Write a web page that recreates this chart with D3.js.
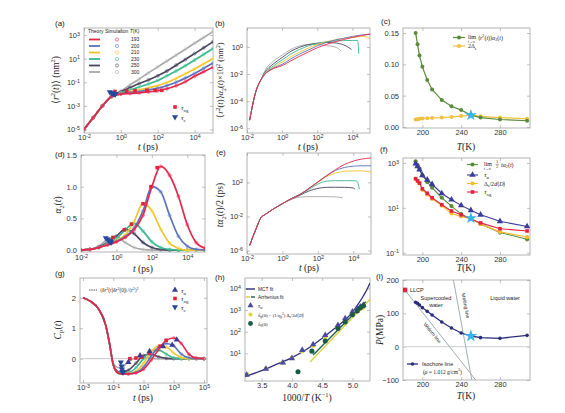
<!DOCTYPE html>
<html><head><meta charset="utf-8">
<script src="https://d3js.org/d3.v7.min.js"></script>
<style>html,body{margin:0;padding:0;background:#fff;}svg{display:block;}</style>
</head><body>
<svg id="chart" width="565" height="413"></svg>
<script>
// ================= DATA =================
const temps = ["193","200","210","230","250","300"];
const tempColors = ["#e3264a","#5b72b6","#f2c230","#3cb48c","#4a4560","#a8a8a8"];

// (a) MSD, log10 values on log10 t grid
const aLogT   = [-2,-1.5,-1,-0.5,0,0.5,1,1.5,2,2.5,3,3.5,4,4.5,5];
const aMsd193 = [-5,-4,-3,-2.2,-2.0,-1.95,-1.9,-1.82,-1.72,-1.55,-1.3,-0.95,-0.5,-0.1,0.28];
const aMsd200 = [-5,-4,-3,-2.2,-1.97,-1.88,-1.78,-1.65,-1.5,-1.28,-1.0,-0.65,-0.25,0.18,0.62];
const aMsd210 = [-5,-4,-3,-2.2,-1.95,-1.8,-1.65,-1.48,-1.28,-1.02,-0.68,-0.28,0.12,0.56,1.0];
const aMsd230 = [-5,-4,-3,-2.2,-1.9,-1.65,-1.4,-1.15,-0.85,-0.45,-0.05,0.4,0.88,1.37,1.86];
const aMsd250 = [-5,-4,-3,-2.2,-1.8,-1.45,-1.1,-0.8,-0.45,-0.05,0.45,0.93,1.43,1.93,2.43];
const aMsd300 = [-5,-4,-3,-2.15,-1.75,-1.22,-0.72,-0.2,0.3,0.8,1.3,1.8,2.3,2.8,3.3];
const aTauNgLogT   = [2.22,1.86,1.41,0.77,0.32,-0.32];
const aTauNgLogMsd = [-1.68,-1.7,-1.68,-1.72,-1.75,-1.78];
const aTauCLogT    = [-0.3,-0.35,-0.4,-0.45,-0.5,-0.6];
const aTauCLogMsd  = [-2.02,-2.0,-1.97,-1.94,-1.9,-1.82];
const aYTicks = [1e-5,1e-3,1e-1,1e1,1e3];
const tXTicks = [1e-2,1,1e2,1e4];

// (b) <r2>alpha2 x10^2, [log t, log value]
const b193 = [[-1.85,-5.4],[-1.5,-3.3],[-1.2,-2.4],[-1,-2.05],[-0.5,-1.6],[0,-1.38],[0.5,-1.02],[1,-0.68],[1.5,-0.36],[2,-0.06],[2.5,0.18],[3,0.38],[3.5,0.55],[4,0.7],[4.5,0.84],[5,0.96]];
const b200 = [[-1.85,-5.4],[-1.5,-3.3],[-1.2,-2.4],[-1,-2.03],[-0.5,-1.55],[0,-1.28],[0.5,-0.88],[1,-0.52],[1.5,-0.22],[2,0.08],[2.5,0.33],[3,0.5],[3.5,0.64],[4,0.78],[4.5,0.88],[5,0.93]];
const b210 = [[-1.85,-5.4],[-1.5,-3.3],[-1.2,-2.4],[-1,-2.0],[-0.5,-1.5],[0,-1.12],[0.5,-0.72],[1,-0.38],[1.5,-0.08],[2,0.18],[2.5,0.38],[3,0.53],[3.5,0.63],[4,0.72],[4.5,0.76],[4.8,0.75],[5,0.6]];
const b230 = [[-1.85,-5.4],[-1.5,-3.3],[-1.2,-2.4],[-1,-1.95],[-0.5,-1.4],[0,-0.95],[0.5,-0.52],[1,-0.18],[1.5,0.08],[2,0.27],[2.5,0.38],[3,0.44],[3.5,0.47],[4,0.48],[4.3,0.48],[4.36,-0.5]];
const b250 = [[-1.85,-5.4],[-1.5,-3.3],[-1.2,-2.4],[-1,-1.9],[-0.5,-1.25],[0,-0.78],[0.5,-0.32],[1,-0.02],[1.5,0.18],[2,0.28],[2.5,0.33],[3,0.3],[3.5,0.15],[3.8,-0.05],[3.95,-0.18]];
const b300 = [[-1.85,-5.4],[-1.5,-3.3],[-1.2,-2.4],[-1,-1.8],[-0.5,-1.05],[0,-0.6],[0.5,-0.18],[1,0.08],[1.5,0.18],[2,0.18],[2.5,0.1],[3,0.0],[3.2,-0.12],[3.35,-0.3]];
const bYTicks = [1e-6,1e-4,1e-2,1];

// (c) vs T
const cT = [193,195,197,200,205,210,220,230,240,250,260,280,308];
const cLimR2A2 = [0.15,0.132,0.114,0.096,0.075,0.06,0.043,0.033,0.027,0.019,0.015,0.012,0.010];
const c2Ds     = [0.012,0.0125,0.013,0.0135,0.014,0.0145,0.015,0.016,0.0175,0.019,0.017,0.015,0.013];
const cStar = [250,0.019];
const cYTicks = [0,0.05,0.10,0.15];
const TTicks = [200,240,280];

// (d) alpha2(t)
const dLogT = [-2,-1.5,-1,-0.5,0,0.5,1,1.5,2,2.5,3,3.5,4,4.5,5];
const d193 = [0,0.01,0.04,0.08,0.13,0.2,0.32,0.55,1.0,1.32,1.18,0.85,0.4,0.12,0.03];
const d200 = [0,0.01,0.04,0.09,0.14,0.21,0.35,0.62,1.0,0.92,0.55,0.22,0.06,0.01,0];
const d210 = [0,0.01,0.04,0.09,0.15,0.24,0.45,0.74,0.62,0.33,0.11,0.03,0,0,0];
const d230 = [0,0.01,0.04,0.1,0.18,0.32,0.42,0.3,0.13,0.04,0.01,0,0,0,0];
const d250 = [0,0.01,0.05,0.12,0.22,0.33,0.26,0.12,0.04,0.01,0,0,0,0,0];
const d300 = [0,0.01,0.06,0.17,0.21,0.12,0.04,0.01,0,0,0,0,0,0,0];
const dNgLogT = [2.3,1.95,1.5,0.85,0.45,-0.2];
const dNgA    = [1.3,1.0,0.73,0.41,0.32,0.2];
const dTcLogT = [-0.3,-0.35,-0.4,-0.45,-0.5,-0.6];
const dTcA    = [0.12,0.13,0.14,0.15,0.17,0.19];
const dYTicks = [0,0.5,1.0,1.5];

// (e) t alpha2 / 2, [log t, log value]
const e193 = [[-1.85,-5.4],[-1.5,-3.5],[-1.2,-2.1],[-1,-1.8],[-0.5,-1.1],[0,-0.5],[0.5,0.1],[1,0.6],[1.5,1.3],[2,2.05],[2.5,2.8],[3,3.5],[3.5,4.1],[4,4.5],[4.5,4.75],[5,4.86]];
const e200 = [[-1.85,-5.4],[-1.5,-3.5],[-1.2,-2.1],[-1,-1.8],[-0.5,-1.1],[0,-0.5],[0.5,0.1],[1,0.6],[1.5,1.3],[2,2.05],[2.5,2.8],[3,3.4],[3.5,3.75],[4,3.9],[4.5,3.95],[5,3.95]];
const e210 = [[-1.85,-5.4],[-1.5,-3.5],[-1.2,-2.1],[-1,-1.8],[-0.5,-1.1],[0,-0.5],[0.5,0.1],[1,0.6],[1.5,1.3],[2,2.0],[2.5,2.7],[3,3.1],[3.5,3.3],[4,3.35],[4.5,3.35],[5,3.2]];
const e230 = [[-1.85,-5.4],[-1.5,-3.5],[-1.2,-2.1],[-1,-1.8],[-0.5,-1.1],[0,-0.5],[0.5,0.1],[1,0.55],[1.5,1.2],[2,1.8],[2.5,2.15],[3,2.2],[3.5,2.2],[4,2.2],[4.2,2.15],[4.35,1.2]];
const e250 = [[-1.85,-5.4],[-1.5,-3.5],[-1.2,-2.1],[-1,-1.8],[-0.5,-1.1],[0,-0.5],[0.5,0.05],[1,0.5],[1.5,1.0],[2,1.3],[2.5,1.42],[3,1.43],[3.5,1.42],[4,1.35],[4.1,1.2]];
const e300 = [[-1.85,-5.4],[-1.5,-3.5],[-1.2,-2.1],[-1,-1.8],[-0.5,-1.1],[0,-0.5],[0.5,0.0],[1,0.28],[1.5,0.33],[2,0.33],[2.5,0.33],[3,0.3],[3.4,0.2]];
const eYTicks = [1e-6,1e-2,1e2];

// (f) log10 values vs T
const fLimTa2Log = [3.07,2.9,2.75,2.45,2.15,1.9,1.45,1.08,0.72,0.52,0.28,-0.1,-0.4];
const fTauALog   = [2.97,2.85,2.7,2.45,2.25,2.05,1.64,1.36,1.11,0.89,0.69,0.4,0.17];
const fDsLog     = [2.29,2.2,2.1,1.8,1.6,1.4,1.1,0.75,0.62,0.52,0.28,-0.07,-0.3];
const fTauNgLog  = [2.3,2.2,2.1,1.85,1.65,1.45,1.14,0.86,0.69,0.5,0.33,0.07,-0.03];
const fStar = [250,0.54];
const fYTicks = [0.1,10,1000];

// (g) C_P(t)
const gLogT = [-3,-2.5,-2,-1.5,-1.25,-1,-0.75,-0.5,0,0.5,1,1.5,2,2.5,3,3.5,4,4.5,5];
const g193 = [2,1.88,1.65,1.1,0.5,-0.2,-0.45,-0.5,-0.5,-0.47,-0.35,-0.05,0.3,0.6,0.68,0.5,0.15,0.02,0];
const g200 = [2,1.88,1.65,1.1,0.5,-0.2,-0.45,-0.5,-0.5,-0.45,-0.28,0.08,0.38,0.5,0.42,0.15,0.03,0,0];
const g210 = [2,1.88,1.65,1.1,0.5,-0.2,-0.45,-0.5,-0.49,-0.42,-0.15,0.22,0.41,0.38,0.18,0.04,0,0,0];
const g230 = [2,1.88,1.65,1.1,0.5,-0.2,-0.44,-0.48,-0.46,-0.3,0.0,0.25,0.28,0.15,0.03,0,0,0,0];
const g250 = [2,1.88,1.65,1.1,0.5,-0.2,-0.4,-0.45,-0.38,-0.15,0.1,0.14,0.06,0.01,0,0,0,0,0];
const g300 = [2,1.88,1.65,1.1,0.5,-0.15,-0.28,-0.3,-0.1,0.02,0.04,0.01,0,0,0,0,0,0,0];
const gTauALogT = [3.2,2.9,2.3,1.4,0.77,0.0];
const gTauAC    = [0.62,0.45,0.4,0.24,0.1,-0.12];
const gNgLogT   = [2.5,2.1,1.4,0.9,0.5,0.1];
const gNgC      = [0.6,0.41,0.18,0.05,0.02,0.0];
const gTcLogT   = [-0.35,-0.38,-0.4,-0.42,-0.45,-0.5];
const gTcC      = [-0.45,-0.44,-0.42,-0.35,-0.25,-0.12];
const gXTicks = [1e-3,1e-1,1e1,1e3,1e5];
const gYTicks = [0,1,2];

// (h) vs 1000/T
const hInvT    = [3.25,3.57,3.85,4.0,4.17,4.35,4.55,4.76,4.88,5.0,5.08,5.13,5.18];
const hTauALog = [0.0,0.28,0.57,0.77,1.15,1.41,1.84,2.3,2.61,2.92,3.07,3.15,3.23];
const hHpLog   = [0.05,0.3,0.58,0.78,1.1,1.35,1.75,2.2,2.5,2.8,2.95,3.05,3.12];
const hH0InvT  = [4.1,4.33,4.55,4.76,4.88,5.0,5.08,5.13,5.18];
const hH0Log   = [0.15,1.1,1.57,2.15,2.45,2.78,2.95,3.1,3.2];
const hMctX = [3.22,3.5,3.75,4.0,4.25,4.5,4.75,4.9,5.0,5.1,5.18,5.24,5.29];
const hMctY = [-0.08,0.2,0.5,0.8,1.2,1.7,2.25,2.6,2.9,3.3,3.65,3.95,4.25];
const hArrYellowX = [4.3,5.29], hArrYellowY = [0.6,3.5];
const hArrGreenX  = [4.35,5.22], hArrGreenY  = [0.92,3.38];
const hXTicks = [3.5,4.0,4.5,5.0];
const hYTicks = [1e1,1e2,1e3,1e4];

// (i) P vs T
const iP = [133,130,125,117,106,95,74,56,41,32,27,25,34];
const iLLCP = [182,170];
const iWidomT = [182,255], iWidomP = [170,-100];
const iMeltT  = [232,251], iMeltP  = [200,-100];
const iStar = [250,32];
const iYTicks = [-100,0,100,200];

// ================= DRAWING =================
const svg = d3.select("#chart");
const FS = '"Liberation Sans", Arial, Helvetica, sans-serif';
const FSERIF = '"Liberation Serif", "Times New Roman", serif';
const starColor = "#38b4e8";
let clipN = 0;

function rich(parent, x, y, parts, size, family, anchor, rot, fill) {
  const t = parent.append("text").attr("x", x).attr("y", y)
    .attr("font-family", family).attr("font-size", size + "px")
    .attr("text-anchor", anchor || "start").attr("fill", fill || "#222");
  if (rot) t.attr("transform", `rotate(${rot},${x},${y})`);
  let cur = 0;
  parts.forEach(([s, f]) => {
    f = f || "";
    const ts = t.append("tspan").text(s);
    let target = 0;
    if (f.includes("s")) target = size * 0.3;
    if (f.includes("p")) target = -size * 0.4;
    ts.attr("dy", (target - cur).toFixed(2)); cur = target;
    if (target !== 0) ts.attr("font-size", (size * 0.68).toFixed(2) + "px");
    if (f.includes("i")) ts.attr("font-style", "italic");
  });
  return t;
}

function supLog(sel) {
  sel.selectAll(".tick text").each(function (d) {
    const e = Math.round(Math.log10(d));
    const t = d3.select(this); t.text("");
    t.append("tspan").text("10");
    t.append("tspan").attr("dy", "-0.42em").attr("font-size", "5.3px").text(e);
  });
}

function panel(x, y, o) {
  const [x0, x1] = x.range(); const y1 = y.range()[0], y0 = y.range()[1];
  svg.append("rect").attr("x", x0).attr("y", y0).attr("width", x1 - x0).attr("height", y1 - y0)
    .attr("fill", "#fff").attr("stroke", "#b4b4b4").attr("stroke-width", 1);
  const xb = svg.append("g").attr("transform", `translate(0,${y1})`)
    .call(d3.axisBottom(x).tickValues(o.xt).tickSize(-3).tickPadding(o.xpad || 2).tickFormat(o.xf || null));
  const xt = svg.append("g").attr("transform", `translate(0,${y0})`)
    .call(d3.axisTop(x).tickValues(o.xt).tickSize(-3).tickFormat(""));
  const yl = svg.append("g").attr("transform", `translate(${x0},0)`)
    .call(d3.axisLeft(y).tickValues(o.yt).tickSize(-3).tickPadding(4).tickFormat(o.yf || null));
  const yr = svg.append("g").attr("transform", `translate(${x1},0)`)
    .call(d3.axisRight(y).tickValues(o.yt).tickSize(-3).tickFormat(""));
  [xb, xt, yl, yr].forEach(a => {
    a.select(".domain").remove();
    a.selectAll("line").attr("stroke", "#999").attr("stroke-width", 0.6);
    a.selectAll("text").attr("font-family", FS).attr("font-size", "7.5px").attr("fill", "#333");
  });
  if (o.xlog) supLog(xb);
  if (o.ylog) supLog(yl);
  const id = "cp" + (clipN++);
  svg.append("defs").append("clipPath").attr("id", id).append("rect")
    .attr("x", x0).attr("y", y0).attr("width", x1 - x0).attr("height", y1 - y0);
  return svg.append("g").attr("clip-path", `url(#${id})`);
}

function sym(g, type, x, y, size, fill, rot) {
  g.append("path").attr("d", d3.symbol(type, size)())
    .attr("transform", `translate(${x},${y})` + (rot ? ` rotate(${rot})` : ""))
    .attr("fill", fill);
}

function label(x, y, s) {
  svg.append("text").attr("x", x).attr("y", y).attr("font-family", FS).attr("font-size", "8px").attr("fill", "#222").text(s);
}
const tTitle = [["t", "i"], [" (ps)", ""]];
const TTitle = [["T", "i"], ["(K)", ""]];

// ---------- (a) ----------
{
  const x = d3.scaleLog().domain([1e-2, 1e5]).range([84, 213]);
  const y = d3.scaleLog().domain([10 ** -5.3, 10 ** 3.6]).range([133, 28]);
  const p = panel(x, y, { xt: tXTicks, yt: aYTicks, xlog: 1, ylog: 1 });
  const ln = d3.line().x(d => x(10 ** d[0])).y(d => y(10 ** d[1])).curve(d3.curveMonotoneX);
  const series = [aMsd193, aMsd200, aMsd210, aMsd230, aMsd250, aMsd300];
  for (let k = 5; k >= 0; k--) {
    const pts = aLogT.map((t, i) => [t, series[k][i]]);
    p.append("path").datum(pts).attr("d", ln).attr("fill", "none").attr("stroke", tempColors[k]).attr("stroke-width", 1.7);
    p.selectAll(null).data(pts).enter().append("circle").attr("cx", d => x(10 ** d[0])).attr("cy", d => y(10 ** d[1]))
      .attr("r", 1.5).attr("fill", "none").attr("stroke", d3.color(tempColors[k]).brighter(0.5)).attr("stroke-width", 0.6);
  }
  aTauNgLogT.forEach((t, i) => sym(p, d3.symbolSquare, x(10 ** t), y(10 ** aTauNgLogMsd[i]), 13, "#e4223f"));
  aTauCLogT.forEach((t, i) => sym(p, d3.symbolTriangle, x(10 ** t), y(10 ** aTauCLogMsd[i]), 16, "#24489c", 180));
  // legend
  rich(svg, 88, 33, [["Theory   Simulation   ", ""], ["T", "i"], ["(K)", ""]], 5, FS);
  const rowsY = [39.5, 46, 52.5, 59, 65.5, 72];
  temps.forEach((tt, k) => {
    svg.append("line").attr("x1", 89).attr("x2", 100).attr("y1", rowsY[k]).attr("y2", rowsY[k]).attr("stroke", tempColors[k]).attr("stroke-width", 1.8);
    svg.append("circle").attr("cx", 117).attr("cy", rowsY[k]).attr("r", 1.6).attr("fill", "none").attr("stroke", tempColors[k]).attr("stroke-width", 0.6);
    svg.append("text").attr("x", 131).attr("y", rowsY[k] + 1.8).attr("font-family", FS).attr("font-size", "5px").attr("fill", "#222").text(tt);
  });
  sym(svg, d3.symbolSquare, 175, 107, 13, "#e4223f");
  rich(svg, 181, 109.5, [["τ", "i"], ["ng", "s"]], 7, FSERIF);
  sym(svg, d3.symbolTriangle, 175, 117, 16, "#24489c", 180);
  rich(svg, 181, 119.5, [["τ", "i"], ["c", "s"]], 7, FSERIF);
  rich(svg, 148, 150, tTitle, 9.5, FSERIF, "middle");
  rich(svg, 59, 80, [["⟨", ""], ["r", "i"], ["2", "p"], ["(", ""], ["t", "i"], [")⟩ (nm", ""], ["2", "p"], [")", ""]], 9.5, FSERIF, "middle", -90);
  label(55, 26, "(a)");
}

// ---------- (b) ----------
{
  const x = d3.scaleLog().domain([1e-2, 1e5]).range([247, 370]);
  const y = d3.scaleLog().domain([10 ** -6.35, 10 ** 1.4]).range([133, 28]);
  const p = panel(x, y, { xt: tXTicks, yt: bYTicks, xlog: 1, ylog: 1 });
  const ln = d3.line().x(d => x(10 ** d[0])).y(d => y(10 ** d[1])).curve(d3.curveMonotoneX);
  const series = [b193, b200, b210, b230, b250, b300];
  for (let k = 5; k >= 0; k--)
    p.append("path").datum(series[k]).attr("d", ln).attr("fill", "none").attr("stroke", tempColors[k]).attr("stroke-width", 0.9);
  rich(svg, 308, 150, tTitle, 9.5, FSERIF, "middle");
  rich(svg, 223, 80, [["⟨", ""], ["r", "i"], ["2", "p"], ["(", ""], ["t", "i"], [")⟩", ""], ["α", "i"], ["2", "s"], ["(", ""], ["t", "i"], [")×10", ""], ["2", "p"], [" (nm", ""], ["2", "p"], [")", ""]], 8.5, FSERIF, "middle", -90);
  label(215, 26, "(b)");
}

// ---------- (c) ----------
{
  const x = d3.scaleLinear().domain([180, 311]).range([403, 530]);
  const y = d3.scaleLinear().domain([-0.0016, 0.158]).range([128, 28]);
  const p = panel(x, y, { xt: TTicks, yt: cYTicks, xf: d3.format("d"), yf: d3.format(".2f") });
  const ln = d3.line().x(d => x(d[0])).y(d => y(d[1]));
  const gr = cT.map((t, i) => [t, cLimR2A2[i]]);
  const ye = cT.map((t, i) => [t, c2Ds[i]]);
  p.append("path").datum(ye).attr("d", ln).attr("fill", "none").attr("stroke", "#f0c040").attr("stroke-width", 1.2);
  p.selectAll(null).data(ye).enter().append("circle").attr("cx", d => x(d[0])).attr("cy", d => y(d[1])).attr("r", 2).attr("fill", "#f0c040");
  p.append("path").datum(gr).attr("d", ln).attr("fill", "none").attr("stroke", "#5a8a3a").attr("stroke-width", 1.2);
  p.selectAll(null).data(gr).enter().append("circle").attr("cx", d => x(d[0])).attr("cy", d => y(d[1])).attr("r", 2).attr("fill", "#5a8a3a");
  sym(p, d3.symbolStar, x(cStar[0]), y(cStar[1]), 45, starColor);
  // legend
  svg.append("line").attr("x1", 453).attr("x2", 465).attr("y1", 37.5).attr("y2", 37.5).attr("stroke", "#5a8a3a").attr("stroke-width", 1.2);
  svg.append("circle").attr("cx", 459).attr("cy", 37.5).attr("r", 2).attr("fill", "#5a8a3a");
  rich(svg, 468, 38.5, [["lim", ""]], 6, FSERIF);
  rich(svg, 468, 42.5, [["t→∞", "i"]], 3.5, FSERIF);
  rich(svg, 478, 39.5, [["⟨", ""], ["r", "i"], ["2", "p"], ["(", ""], ["t", "i"], [")⟩", ""], ["α", "i"], ["2", "s"], ["(", ""], ["t", "i"], [")", ""]], 6, FSERIF);
  svg.append("line").attr("x1", 453).attr("x2", 465).attr("y1", 46).attr("y2", 46).attr("stroke", "#f0c040").attr("stroke-width", 1.2);
  svg.append("circle").attr("cx", 459).attr("cy", 46).attr("r", 2).attr("fill", "#f0c040");
  rich(svg, 468, 48, [["2Δ", ""], ["s", "s"]], 6, FSERIF);
  rich(svg, 466, 150, TTitle, 9.5, FSERIF, "middle");
  label(381, 24, "(c)");
}

// ---------- (d) ----------
{
  const x = d3.scaleLog().domain([1e-2, 1e5]).range([81, 205]);
  const y = d3.scaleLinear().domain([-0.03, 1.5]).range([252, 155]);
  const p = panel(x, y, { xt: tXTicks, yt: dYTicks, xlog: 1, yf: d3.format(".1f"), xpad: 3 });
  const ln = d3.line().x(d => x(10 ** d[0])).y(d => y(d[1])).curve(d3.curveMonotoneX);
  const series = [d193, d200, d210, d230, d250, d300];
  for (let k = 5; k >= 0; k--) {
    const pts = dLogT.map((t, i) => [t, series[k][i]]);
    p.append("path").datum(pts).attr("d", ln).attr("fill", "none").attr("stroke", tempColors[k]).attr("stroke-width", 1.7);
    p.selectAll(null).data(pts).enter().append("circle").attr("cx", d => x(10 ** d[0])).attr("cy", d => y(d[1]))
      .attr("r", 1.5).attr("fill", "none").attr("stroke", d3.color(tempColors[k]).brighter(0.5)).attr("stroke-width", 0.6);
  }
  dNgLogT.forEach((t, i) => sym(p, d3.symbolSquare, x(10 ** t), y(dNgA[i]), 13, "#e4223f"));
  dTcLogT.forEach((t, i) => sym(p, d3.symbolTriangle, x(10 ** t), y(dTcA[i]), 16, "#24489c", 180));
  rich(svg, 143, 272, tTitle, 9.5, FSERIF, "middle");
  rich(svg, 61, 205, [["α", "i"], ["2", "s"], ["(", ""], ["t", "i"], [")", ""]], 9.5, FSERIF, "middle", -90);
  label(55, 157, "(d)");
}

// ---------- (e) ----------
{
  const x = d3.scaleLog().domain([1e-2, 1e5]).range([247, 371]);
  const y = d3.scaleLog().domain([10 ** -6.4, 10 ** 5.45]).range([254, 153]);
  const p = panel(x, y, { xt: tXTicks, yt: eYTicks, xlog: 1, ylog: 1 });
  const ln = d3.line().x(d => x(10 ** d[0])).y(d => y(10 ** d[1])).curve(d3.curveMonotoneX);
  const series = [e193, e200, e210, e230, e250, e300];
  for (let k = 5; k >= 0; k--)
    p.append("path").datum(series[k]).attr("d", ln).attr("fill", "none").attr("stroke", tempColors[k]).attr("stroke-width", 0.9);
  rich(svg, 309, 271, tTitle, 9.5, FSERIF, "middle");
  rich(svg, 223, 205, [["t", "i"], ["α", "i"], ["2", "s"], ["(", ""], ["t", "i"], [")/2 (ps)", ""]], 9.5, FSERIF, "middle", -90);
  label(216, 155, "(e)");
}

// ---------- (f) ----------
{
  const x = d3.scaleLinear().domain([180, 311]).range([403, 530]);
  const y = d3.scaleLog().domain([10 ** -1.1, 10 ** 3.22]).range([255, 158]);
  const p = panel(x, y, { xt: TTicks, yt: fYTicks, xf: d3.format("d"), ylog: 1 });
  const ln = d3.line().x(d => x(d[0])).y(d => y(10 ** d[1]));
  const defs = [
    { v: fLimTa2Log, c: "#5a8a3a", s: d3.symbolCircle, sz: 14 },
    { v: fTauALog, c: "#3b3c9a", s: d3.symbolTriangle, sz: 18 },
    { v: fDsLog, c: "#f0bc30", s: d3.symbolCircle, sz: 14 },
    { v: fTauNgLog, c: "#e4223f", s: d3.symbolSquare, sz: 13 }
  ];
  defs.forEach(o => {
    const pts = cT.map((t, i) => [t, o.v[i]]);
    p.append("path").datum(pts).attr("d", ln).attr("fill", "none").attr("stroke", o.c).attr("stroke-width", 1.1);
    pts.forEach(d => sym(p, o.s, x(d[0]), y(10 ** d[1]), o.sz, o.c));
  });
  sym(p, d3.symbolStar, x(fStar[0]), y(10 ** fStar[1]), 45, starColor);
  const ly = [164.5, 175, 183.5, 192];
  defs.forEach((o, k) => {
    svg.append("line").attr("x1", 467).attr("x2", 478).attr("y1", ly[k]).attr("y2", ly[k]).attr("stroke", o.c).attr("stroke-width", 1.1);
    sym(svg, o.s, 472.5, ly[k], o.sz, o.c);
  });
  rich(svg, 484, 165.5, [["lim", ""]], 6, FSERIF);
  rich(svg, 484, 169.5, [["t→∞", "i"]], 3.5, FSERIF);
  rich(svg, 496, 163, [["1", ""]], 4.5, FSERIF);
  svg.append("line").attr("x1", 495.5).attr("x2", 499).attr("y1", 164.3).attr("y2", 164.3).attr("stroke", "#222").attr("stroke-width", 0.4);
  rich(svg, 496, 168, [["2", ""]], 4.5, FSERIF);
  rich(svg, 501, 166.5, [["t", "i"], ["α", "i"], ["2", "s"], ["(", ""], ["t", "i"], [")", ""]], 6, FSERIF);
  rich(svg, 484, 177, [["τ", "i"], ["α", "s"]], 7, FSERIF);
  rich(svg, 484, 185.5, [["Δ", ""], ["s", "s"], ["/2", ""], ["d", "i"], ["⟨", ""], ["D", "i"], ["⟩", ""]], 6, FSERIF);
  rich(svg, 484, 194, [["τ", "i"], ["ng", "s"]], 7, FSERIF);
  rich(svg, 466, 271, TTitle, 9.5, FSERIF, "middle");
  label(380, 152, "(f)");
}

// ---------- (g) ----------
{
  const x = d3.scaleLog().domain([10 ** -3.2, 10 ** 5.2]).range([80, 207]);
  const y = d3.scaleLinear().domain([-0.8, 2.65]).range([383, 278]);
  const p = panel(x, y, { xt: gXTicks, yt: gYTicks, xlog: 1, yf: d3.format("d") });
  p.append("line").attr("x1", 80).attr("x2", 207).attr("y1", y(0)).attr("y2", y(0)).attr("stroke", "#c8c8c8").attr("stroke-width", 1);
  const ln = d3.line().x(d => x(10 ** d[0])).y(d => y(d[1])).curve(d3.curveMonotoneX);
  const series = [g193, g200, g210, g230, g250, g300];
  for (let k = 5; k >= 0; k--) {
    const pts = gLogT.map((t, i) => [t, series[k][i]]);
    p.append("path").datum(pts).attr("d", ln).attr("fill", "none").attr("stroke", tempColors[k]).attr("stroke-width", 1.6);
    p.selectAll(null).data(pts.slice(8)).enter().append("circle").attr("cx", d => x(10 ** d[0])).attr("cy", d => y(d[1]))
      .attr("r", 1.4).attr("fill", "none").attr("stroke", d3.color(tempColors[k]).brighter(0.5)).attr("stroke-width", 0.6);
  }
  gNgLogT.forEach((t, i) => sym(p, d3.symbolSquare, x(10 ** t), y(gNgC[i]), 13, "#e4223f"));
  gTauALogT.forEach((t, i) => sym(p, d3.symbolTriangle, x(10 ** t), y(gTauAC[i]), 16, "#3b3c9a"));
  gTcLogT.forEach((t, i) => sym(p, d3.symbolTriangle, x(10 ** t), y(gTcC[i]), 16, "#24489c", 180));
  svg.append("line").attr("x1", 89).attr("x2", 97).attr("y1", 290).attr("y2", 290).attr("stroke", "#555").attr("stroke-width", 1.2).attr("stroke-dasharray", "1.5,0.8");
  rich(svg, 100, 291.8, [["⟨δ", ""], ["r", "i"], ["2", "p"], ["(", ""], ["t", "i"], [")δ", ""], ["r", "i"], ["2", "p"], ["(0)⟩/⟨", ""], ["r", "i"], ["2", "p"], ["⟩", ""], ["2", "p"]], 5.2, FSERIF);
  sym(svg, d3.symbolTriangle, 175, 290, 16, "#3b3c9a");
  rich(svg, 181, 292.5, [["τ", "i"], ["α", "s"]], 7, FSERIF);
  sym(svg, d3.symbolSquare, 175, 298.5, 13, "#e4223f");
  rich(svg, 181, 301, [["τ", "i"], ["ng", "s"]], 7, FSERIF);
  sym(svg, d3.symbolTriangle, 175, 307, 16, "#24489c", 180);
  rich(svg, 181, 309.5, [["τ", "i"], ["c", "s"]], 7, FSERIF);
  rich(svg, 143, 401, tTitle, 9.5, FSERIF, "middle");
  rich(svg, 61, 330, [["C", "i"], ["P", "s"], ["(", ""], ["t", "i"], [")", ""]], 9.5, FSERIF, "middle", -90);
  label(55, 276, "(g)");
}

// ---------- (h) ----------
{
  const x = d3.scaleLinear().domain([3.224, 5.29]).range([245, 370]);
  const y = d3.scaleLog().domain([10 ** -0.28, 10 ** 4.48]).range([381, 278]);
  const p = panel(x, y, { xt: hXTicks, yt: hYTicks, xf: d3.format(".1f"), ylog: 1 });
  const ln = d3.line().x(d => x(d[0])).y(d => y(10 ** d[1]));
  p.append("path").datum(hArrYellowX.map((v, i) => [v, hArrYellowY[i]])).attr("d", ln).attr("fill", "none").attr("stroke", "#d9d23a").attr("stroke-width", 1.3);
  p.append("path").datum(hArrGreenX.map((v, i) => [v, hArrGreenY[i]])).attr("d", ln).attr("fill", "none").attr("stroke", "#1e5e4e").attr("stroke-width", 1.3);
  p.append("path").datum(hMctX.map((v, i) => [v, hMctY[i]])).attr("d", ln.curve(d3.curveMonotoneX)).attr("fill", "none").attr("stroke", "#2f2f80").attr("stroke-width", 1.3);
  hInvT.forEach((v, i) => sym(p, d3.symbolCircle, x(v), y(10 ** hHpLog[i]), 16, "#d8d64a"));
  hInvT.forEach((v, i) => sym(p, d3.symbolTriangle, x(v), y(10 ** hTauALog[i]), 18, "#4b4b9c"));
  hH0InvT.forEach((v, i) => sym(p, d3.symbolCircle, x(v), y(10 ** hH0Log[i]), 20, "#1d5a45"));
  // legend
  svg.append("line").attr("x1", 246).attr("x2", 255).attr("y1", 289).attr("y2", 289).attr("stroke", "#2f2f80").attr("stroke-width", 1.4);
  rich(svg, 258, 291, [["MCT fit", ""]], 4.8, FS);
  svg.append("line").attr("x1", 246).attr("x2", 250).attr("y1", 297).attr("y2", 297).attr("stroke", "#d9d23a").attr("stroke-width", 1.4);
  svg.append("line").attr("x1", 251).attr("x2", 255).attr("y1", 297).attr("y2", 297).attr("stroke", "#1e5e4e").attr("stroke-width", 1.4);
  rich(svg, 258, 299, [["Arrhenius fit", ""]], 4.8, FS);
  sym(svg, d3.symbolTriangle, 250.5, 305.5, 16, "#4b4b9c");
  rich(svg, 258, 307.5, [["τ", "i"], ["α", "s"]], 6, FSERIF);
  sym(svg, d3.symbolCircle, 250.5, 314.5, 14, "#d8d64a");
  rich(svg, 258, 316.5, [["ĥ", "i"], ["p", "s"], ["(0) = (1/", ""], ["η", "i"], ["p", "s"], ["2", "p"], [") Δ", ""], ["s", "s"], ["/2", ""], ["d", "i"], ["⟨", ""], ["D", "i"], ["⟩", ""]], 4.8, FSERIF);
  sym(svg, d3.symbolCircle, 250.5, 323.5, 18, "#1d5a45");
  rich(svg, 258, 325.5, [["ĥ", "i"], ["0", "s"], ["(0)", ""]], 4.8, FSERIF);
  rich(svg, 307, 401, [["1000/", ""], ["T", "i"], [" (K", ""], ["−1", "p"], [")", ""]], 9.5, FSERIF, "middle");
  label(215, 280, "(h)");
}

// ---------- (i) ----------
{
  const x = d3.scaleLinear().domain([180, 311]).range([403, 530]);
  const y = d3.scaleLinear().domain([-100, 200]).range([380, 280]);
  const p = panel(x, y, { xt: TTicks, yt: iYTicks, xf: d3.format("d"), yf: d3.format("d") });
  p.append("line").attr("x1", 403).attr("x2", 530).attr("y1", y(0)).attr("y2", y(0)).attr("stroke", "#d0d0d0").attr("stroke-width", 1);
  const ln = d3.line().x(d => x(d[0])).y(d => y(d[1]));
  p.append("path").datum(iWidomT.map((t, i) => [t, iWidomP[i]])).attr("d", ln).attr("fill", "none").attr("stroke", "#a4acb4").attr("stroke-width", 1);
  p.append("path").datum(iMeltT.map((t, i) => [t, iMeltP[i]])).attr("d", ln).attr("fill", "none").attr("stroke", "#a4acb4").attr("stroke-width", 1);
  const iso = cT.map((t, i) => [t, iP[i]]);
  p.append("path").datum(iso).attr("d", ln).attr("fill", "none").attr("stroke", "#2b2d7c").attr("stroke-width", 1.3);
  p.selectAll(null).data(iso).enter().append("circle").attr("cx", d => x(d[0])).attr("cy", d => y(d[1])).attr("r", 1.8).attr("fill", "#2b2d7c");
  sym(p, d3.symbolSquare, x(iLLCP[0]), y(iLLCP[1]), 22, "#e4223f");
  sym(p, d3.symbolStar, x(iStar[0]), y(iStar[1]), 50, starColor);
  rich(svg, 410, 292, [["LLCP", ""]], 5.5, FS);
  rich(svg, 436, 300, [["Supercooled", ""]], 5.5, FS, "middle");
  rich(svg, 436, 307, [["water", ""]], 5.5, FS, "middle");
  rich(svg, 505, 300, [["Liquid water", ""]], 5.5, FS, "middle");
  rich(svg, 464, 306, [["Melting line", ""]], 5, FS, "middle", 79);
  rich(svg, 431, 334, [["Widom line", ""]], 5, FS, "middle", 51);
  svg.append("line").attr("x1", 407).attr("x2", 418).attr("y1", 364).attr("y2", 364).attr("stroke", "#2b2d7c").attr("stroke-width", 1.3);
  svg.append("circle").attr("cx", 412.5).attr("cy", 364).attr("r", 1.8).attr("fill", "#2b2d7c");
  rich(svg, 422, 366, [["Isochore line", ""]], 5.5, FS);
  rich(svg, 423, 373.5, [["(", ""], ["ρ", "i"], [" = 1.012 g/cm", ""], ["3", "p"], [")", ""]], 5.5, FSERIF);
  rich(svg, 466, 399, TTitle, 9.5, FSERIF, "middle");
  rich(svg, 383, 330, [["P", "i"], ["(MPa)", ""]], 9.5, FSERIF, "middle", -90);
  label(376, 279, "(i)");
}
</script>
</body></html>
